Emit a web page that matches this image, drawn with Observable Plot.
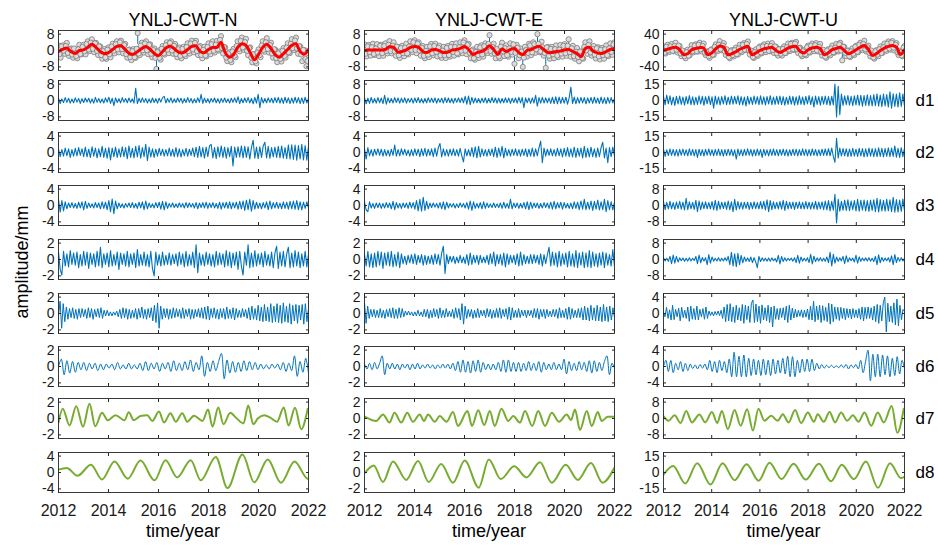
<!DOCTYPE html>
<html><head><meta charset="utf-8">
<script src="https://cdn.jsdelivr.net/npm/d3@7"></script>
<script src="https://cdn.jsdelivr.net/npm/@observablehq/plot@0.6"></script>
<style>
body{margin:0;background:#fff;font-family:"Liberation Sans",Arial,sans-serif;}
#c{position:relative;width:938px;height:545px;overflow:hidden;background:#fff;}
.lbl{position:absolute;white-space:nowrap;color:#000;line-height:1;transform:translate(-50%,-50%);}
</style></head><body><div id="c"></div>
<script>
// ---------------- DATA ----------------
const stations = ["YNLJ-CWT-N", "YNLJ-CWT-E", "YNLJ-CWT-U"];
const levels = ["d1","d2","d3","d4","d5","d6","d7","d8"];
const yearTicks = [2012, 2014, 2016, 2018, 2020, 2022];
// y tick value per panel (rows: raw, d1..d8), per station
const N_ticks = [8, 8, 4, 4, 2, 2, 2, 2, 4];
const E_ticks = [8, 8, 4, 4, 2, 2, 2, 2, 2];
const U_ticks = [40, 15, 15, 8, 8, 4, 4, 8, 15];

// raw observations: samples at start of month (_a) and mid month (_b); trend (bi-monthly)
const N_raw_a = [2.5,-3.5,2.5,-1.6,3.7,-2.6,1.0,-3.5,0.5,-3.8,2.8,-1.9,2.8,-1.9,4.5,-0.3,5.5,-0.8,3.7,-2.2,2.0,-4.0,0.7,-4.1,1.5,-3.3,3.3,-1.4,4.5,-0.9,4.8,-1.4,3.2,-3.5,0.5,-4.7,0.7,-3.6,8.5,-2.3,3.8,-1.0,4.5,-1.8,3.0,-3.3,1.0,-9.0,0.0,-4.5,2.2,-2.0,4.0,-1.3,4.5,-1.6,3.2,-3.3,1.5,-3.8,1.8,-2.8,3.5,-1.5,4.8,-0.9,4.7,-2.2,2.2,-3.8,1.8,-2.9,3.5,-1.8,4.5,-1.0,4.7,0.0,7.0,-1.5,1.5,-5.2,-0.8,-5.7,0.8,-3.3,4.5,-0.4,6.3,0.3,5.7,-2.3,1.5,-5.8,-1.7,-6.3,0.5,-3.3,4.5,-0.6,6.0,-1.0,3.8,-3.5,0.5,-5.7,-0.5,-5.4,1.2,-3.5,3.5,-1.3,5.5,0.2,6.3,-1.6,2.0,-5.2,0.2,-7.7,-3.5];
const N_raw_b = [-1.8,2.0,-0.1,2.2,-1.2,0.5,-2.0,1.0,-2.7,0.6,-1.7,1.7,-0.4,3.2,0.5,3.8,0.8,3.5,-0.2,2.0,-2.3,-0.3,-3.4,0.4,-1.8,1.9,-0.1,3.1,0.5,4.0,0.7,2.6,-1.8,0.2,-3.2,-0.3,-3.3,0.8,-1.5,2.4,0.1,3.4,0.1,2.7,-1.6,0.2,-3.6,-0.8,-3.6,0.8,-1.4,2.6,0.4,3.7,0.0,2.3,-1.7,0.6,-2.6,0.8,-2.0,1.7,-0.3,3.4,0.5,3.7,-0.3,1.6,-2.2,0.3,-2.4,1.7,-0.5,3.1,-0.1,2.9,0.6,5.2,1.2,1.7,-3.4,-1.5,-4.6,-0.5,-2.5,2.2,0.8,4.7,1.5,4.1,-0.2,1.1,-3.5,-1.8,-5.3,-1.0,-2.3,2.4,0.3,4.0,0.7,2.7,-1.4,0.6,-3.7,-1.4,-4.1,-0.2,-2.6,1.4,-0.8,3.2,1.1,4.9,1.0,2.1,-2.0,0.3,-4.2,-5.1];
const N_trend = [-0.5,0.5,1.2,-0.5,-1.5,0,0.3,1.5,3.0,1.5,-0.5,-1.5,-1.0,0.5,2.0,2.3,0.5,-1.5,-1.8,-0.5,1.0,2.0,0.5,-1.5,-2.5,-0.5,1.5,2.0,0.5,-1.0,-1.0,0.5,2.0,2.2,-0.5,-1.0,0.5,1.5,1.5,4.0,-1.0,-3.3,-2.0,1.5,3.3,2.5,-1.0,-4.5,-2.0,1.5,3.0,1.0,-2.0,-3.3,-1.5,0.5,2.5,3.3,-0.5,-1.8,0.5];
const N_stemT = [2015.17, 2015.92], N_stemFrom = [3.0, -3.0], N_stemTo = [8.5, -9.0];

const E_raw_a = [3.0,-2.9,2.7,-2.5,3.3,-2.2,3.1,-2.8,2.8,-2.6,3.5,-1.4,4.6,-1.4,4.0,-2.6,1.8,-3.6,2.3,-2.8,3.3,-1.9,4.5,-0.8,5.0,-1.3,4.0,-2.5,2.2,-3.8,1.8,-3.2,3.2,-2.3,3.3,-2.9,2.3,-3.6,1.8,-3.7,2.2,-3.0,3.2,-2.5,3.5,-1.9,4.0,-1.3,5.0,-1.8,3.2,-3.8,0.5,-4.5,1.8,-3.6,2.5,-3.0,3.5,-1.2,7.5,-1.6,3.3,-3.8,0.5,-3.8,3.8,-2.7,2.5,-3.0,3.5,-2.0,-6.5,2.8,-3.8,1.0,-8.0,1.8,-3.0,3.3,-2.3,4.0,-1.1,8.0,-0.8,4.3,-2.5,-8.5,1.8,-4.0,1.8,-3.8,2.5,-3.2,2.7,-3.0,3.1,-2.6,5.5,-3.0,2.3,-4.0,1.2,-5.3,-0.5,-4.0,4.0,-1.6,4.5,-2.5,2.2,-3.9,1.6,-4.4,1.3,-4.0,2.5,-2.8,3.5,-2.1,4.0];
const E_raw_b = [-1.6,2.0,-0.8,1.6,-1.7,1.0,-1.0,2.3,-1.3,2.2,-0.2,2.8,-0.3,2.3,-0.4,1.9,-2.3,1.2,-1.3,1.4,-1.4,1.9,0.3,4.0,0.3,3.4,0.0,1.3,-2.6,-0.2,-2.0,2.0,-1.3,2.2,-0.7,1.3,-2.4,-0.1,-2.3,1.3,-2.2,1.8,-0.7,1.7,-1.4,1.6,-0.1,3.9,0.0,2.7,-1.1,-0.1,-3.8,-0.6,-2.2,1.5,-1.9,2.1,-0.1,3.2,-0.2,1.7,-1.4,0.7,-2.9,1.9,-0.5,1.1,-2.3,1.0,-0.7,3.0,-1.1,1.3,-2.3,-0.5,-3.5,0.2,-1.2,2.5,-0.9,3.1,0.6,3.2,-0.4,1.6,-1.2,1.5,-2.6,0.8,-1.9,0.7,-2.5,0.4,-1.5,2.3,-1.3,2.3,-0.8,1.1,-2.8,-0.6,-3.2,-0.5,-3.6,1.8,0.1,2.7,-1.0,0.7,-2.0,1.1,-2.9,0.4,-2.3,0.6,-2.3,1.0,-0.7,3.0];
const E_trend = [0,0.2,0.3,0.3,0.2,0.5,1.8,1.5,-0.8,-0.5,0.3,1.5,2.0,1.5,-0.5,-1.0,0.2,0.5,-0.2,-1.0,-0.8,0.2,0.5,1.0,2.0,0.5,-2.0,-1.0,-0.5,0.5,2.3,0.5,-2.0,0.8,-0.5,0.5,1.0,-1.0,-2.0,0.0,0.5,1.5,2.0,0.5,-1.0,-1.0,-0.5,-0.3,0.3,0.5,-0.5,-1.5,-3.0,1.0,1.5,-0.5,-1.2,-1.5,-0.5,0.5,1.0];
const E_stemT = [2017.0, 2018.0, 2018.33, 2018.92, 2019.25, 2020.17], E_stemFrom = [3.0, -3.0, -3.5, 3.5, -3.5, 2.5], E_stemTo = [7.5, -6.5, -8.0, 8.0, -8.5, 5.5];

const U_raw_a = [10,-7.5,14,-3.5,16,-2,19,-5,11,-14,-2,-19,2,-12,13,-4.5,15,-3,19,-2.5,17,-11,-2,-18,3,-11,15,-1.5,23,0.5,18,-11,-2,-19,1,-14.5,7,-10,14,-4,18,0.5,22,-10,-2,-18,3,-13,10,-7,15,-4,17,-2,18,-6,9,-12.5,3,-12.5,10,-6,17,-1.5,19,1.5,21,-6,7,-14,2,-12,12,-5,17,-2,18,-2.5,16,-12.5,-2,-18,3,-12,12,-5.5,16,-2.5,19,-24,9,-14,0,-16,5,-11,12,-4,19,1,24,-2.5,12,-14.5,-4,-20,1,-14,10,-6,17,-1,22,2,23,0,18,-11,-2,-14,11];
const U_raw_b = [-5,9,0,10,-1,11,2,12,-7,0,-14,-4,-13,3,-2,12,-1,14,3,11,-5,-3,-14,1,-10,9,2,14,3,12,-2,3,-16,-2,-11,1,-9,5,-1,14,2,16,1,0,-16,-4,-10,7,-5,10,1,11,-1,11,1,10,-7,3,-8,4,-6,8,2,16,3,17,3,6,-10,-2,-9,8,-3,12,3,13,0,9,-4,2,-15,0,-8,5,-4,7,1,15,0,9,-6,-1,-14,-2,-8,9,-3,14,5,16,3,8,-6,0,-17,-2,-10,3,-6,8,2,17,5,19,7,14,-4,-3,-12,7];
const U_trend = [0,3,6,8,2,-10,-8,2,5,7,6,-10,-6,4,11,8,-10,-8,-3,3,7,10,-10,-6,0,4,6,8,0,-5,0,6,9,10,-2,-6,2,6,8,5,-10,-6,2,5,8,0,-8,-4,2,8,12,3,-12,-8,0,6,10,12,8,-10,2];
const U_stemT = [2019.42], U_stemFrom = [-8], U_stemTo = [-24];

// ---- N (north) details ----
const N_d1 = [1.2,-1.5,0.8,-1.0,1.4,-0.9,1.1,-1.3,0.7,-1.1,1.3,-0.8,1.0,-1.4,0.9,-1.0,1.2,-0.7,1.1,-1.2,0.8,-1.3,1.5,-0.9,1.0,-1.1,0.7,-1.2,1.3,-0.8,1.6,-1.4,1.1,-2.5,1.3,-1.0,0.9,-1.2,1.4,-0.8,1.0,-1.1,1.2,-0.9,0.8,-1.3,6.0,-1.5,1.1,-1.0,1.3,-0.9,1.0,-1.2,0.8,-1.1,1.2,-1.0,0.9,-1.3,1.1,-0.8,1.4,2.0,-1.2,1.0,-0.9,1.3,-1.1,0.8,-1.0,1.2,-0.8,1.1,-1.3,0.9,-1.0,1.4,-0.9,1.0,-1.2,0.8,-1.1,1.3,-0.9,3.0,-1.4,1.1,-1.0,0.9,-1.2,1.0,-0.8,1.2,-1.1,0.9,-1.3,1.0,-0.9,1.2,-1.0,0.8,-1.2,1.1,-0.9,1.3,-1.0,1.8,-1.5,1.0,-1.1,1.2,-0.9,1.4,-1.2,1.0,-1.6,1.5,-1.3,3.0,-3.5,1.4,-1.2,1.0,-1.1,1.3,-0.9,1.1,-1.2,1.4,-1.0,1.5,-1.3,1.2,-1.4,1.6,-1.1,1.3,-1.5,1.2,-1.3,1.6,-1.2,1.4,-1.5,1.3,-1.4,1.6,-1.2,1.0];
const N_d2 = [0.8,-1.0,0.7,-0.9,1.1,-0.8,0.9,-1.2,0.7,-0.9,1.0,-0.8,1.2,-0.7,0.9,-1.0,1.3,-1.1,0.8,-1.2,1.4,-0.9,1.1,-1.3,0.9,-1.0,1.5,-1.2,1.0,-1.4,1.2,-1.8,1.1,-1.0,1.3,-1.2,0.9,-1.1,1.4,-1.0,1.2,-1.5,1.6,-1.2,1.0,-1.3,1.5,-1.1,1.7,-1.4,1.2,-1.0,2.0,-2.0,1.3,-1.1,0.9,-1.2,0.8,-0.9,1.0,-0.7,0.8,-0.9,0.7,-0.8,1.1,-0.9,0.8,-1.0,1.2,-1.0,0.9,-1.1,0.7,-0.8,1.0,-0.9,0.8,-0.7,1.1,-1.0,1.3,-1.2,1.5,-1.1,1.2,-1.4,1.3,-1.0,1.6,2.0,-1.3,1.2,-1.5,1.4,-1.1,1.6,-1.2,1.3,-1.4,1.2,-1.0,1.5,-3.3,1.3,-1.2,1.4,-1.1,1.6,-1.3,1.5,-1.2,1.4,-1.6,1.2,3.0,-1.4,1.3,-1.5,1.4,-1.2,1.6,2.5,-1.3,1.5,-1.4,1.2,-1.1,1.3,-1.2,1.5,-1.3,1.6,-1.4,1.2,-1.5,1.8,-1.6,1.9,-1.7,1.8,-1.9,1.7,-1.6,2.0,-1.8,1.7,-1.9,1.5];
const N_d3 = [1.5,-1.6,1.2,-1.3,0.9,-0.8,0.6,-0.5,0.7,-0.6,0.5,-0.7,0.8,-0.6,0.9,-1.1,1.0,-0.7,0.6,-0.5,0.4,-0.6,0.7,-0.5,0.6,-0.8,0.9,-0.7,0.8,-1.0,1.2,-1.5,1.6,-2.0,1.1,-0.8,0.6,-0.5,0.4,-0.6,0.5,-0.4,0.6,-0.5,0.7,-0.6,0.5,-0.7,0.8,-0.6,0.9,-1.0,1.1,-0.8,0.6,-0.5,0.4,-0.6,0.7,-0.5,0.8,-0.9,1.0,-1.1,0.9,-0.7,0.5,-0.4,0.6,-0.5,0.4,-0.5,0.6,-0.4,0.5,-0.6,0.7,-0.5,0.6,-0.4,0.5,-0.6,0.7,-0.8,0.6,-0.5,0.7,-0.6,0.8,-0.7,0.6,-0.5,0.7,-0.6,0.5,-0.7,0.8,-0.9,0.7,-0.6,0.8,-0.7,0.9,-0.8,0.7,-0.6,0.8,-0.9,1.0,-0.8,1.1,-1.2,1.3,-1.0,1.5,-1.4,1.2,-0.9,0.8,-0.7,0.6,-0.8,0.7,-0.6,0.9,-1.0,1.1,-0.8,0.7,-0.6,0.8,-0.7,0.6,-0.8,0.9,-0.7,0.8,-0.9,1.0,-0.8,1.1,-0.9,1.2,-1.0,0.9,-1.1,0.8,-0.7,0.9,-0.6];
const N_d4 = [0.9,-1.2,-1.9,1.0,-0.8,0.7,-0.9,1.1,-0.6,0.8,-0.7,0.9,-1.0,0.6,-0.8,1.0,-0.7,0.9,-1.1,0.8,-0.6,0.7,-0.9,1.0,-0.8,1.5,-1.0,0.7,-0.6,0.8,-0.9,1.1,-0.8,0.6,-0.7,0.9,-1.2,0.8,-0.6,0.7,-0.8,1.0,-0.9,0.7,-0.6,0.8,-1.0,1.2,-0.8,0.6,-0.7,0.9,-0.8,0.6,-0.9,1.0,-1.1,-2.0,0.9,-0.7,0.6,-0.8,0.9,-0.7,0.5,-0.6,0.8,-0.7,0.6,-0.5,0.7,-0.8,0.9,-0.6,0.7,-0.9,1.0,-0.8,0.6,-0.7,0.9,-1.0,1.8,-1.6,0.8,-0.7,0.6,-0.8,0.9,-0.6,0.7,-0.8,0.6,-0.9,1.0,-0.7,0.8,-0.6,0.7,-0.9,1.1,-0.8,0.9,-1.0,0.8,-0.7,0.9,-1.2,1.0,-0.8,-1.9,0.9,-0.7,1.8,-1.0,0.8,-0.9,1.1,-0.8,0.7,-0.6,0.8,-0.9,1.0,-0.7,0.6,-0.8,0.9,-1.0,0.8,1.6,-1.1,0.9,-0.8,1.0,-0.9,0.7,1.5,-1.0,0.8,-0.9,1.1,-0.8,0.9,-1.0,0.7,-0.8,1.0,-0.9,0.6];
const N_d5 = [-0.3,1.5,-1.8,1.2,-1.0,0.8,-0.7,0.6,-0.5,0.7,-0.6,0.5,-0.7,0.6,-0.5,0.6,-0.4,0.5,-0.6,0.7,-0.5,0.6,-0.7,0.5,-0.4,0.6,-0.5,0.7,-0.6,0.4,-0.3,0.4,-0.3,0.2,-0.3,0.2,-0.2,0.3,-0.4,0.5,-0.6,0.7,-0.5,0.6,-0.7,0.5,-0.6,0.4,-0.5,0.6,-0.7,0.6,-0.5,0.8,-0.6,0.5,-0.7,0.6,-0.5,0.7,-0.9,1.0,-1.1,1.3,-1.8,0.9,-0.7,0.6,-0.5,0.6,-0.7,0.5,-0.6,0.7,-0.5,0.6,-0.4,0.5,-0.6,0.7,-0.6,0.5,-0.4,0.6,-0.7,0.5,-0.6,0.5,-0.4,0.6,-0.5,0.7,-0.6,0.8,-0.7,0.9,-0.8,0.6,-0.5,0.7,-0.6,0.5,-0.7,0.6,-0.5,0.6,-0.7,0.8,-0.6,0.5,-0.6,0.7,-0.8,0.6,-0.5,0.4,-0.5,0.6,-0.4,0.5,-0.6,0.7,-0.8,0.9,-0.7,0.6,-0.8,1.0,-0.9,0.8,-1.0,1.1,-0.9,0.8,-1.0,1.2,-1.1,0.9,-1.0,1.2,-1.1,1.0,-1.2,1.3,-1.0,0.9,-1.1,1.2,-1.3,1.0,-0.9,1.1,-1.2,1.0,-0.8,1.1,-1.3,1.2,-1.0,0.6];
const N_d6 = [0,0.9,-1.0,0.7,-0.8,0.6,-0.7,0.5,-0.4,0.5,-0.5,0.4,-0.3,0.4,-0.5,0.3,-0.4,0.3,-0.2,0.3,-0.4,0.5,-0.3,0.2,-0.3,0.4,-0.3,0.2,-0.3,0.4,-0.5,0.6,-0.5,0.4,-0.3,0.5,-0.6,0.4,-0.3,0.5,-0.6,0.7,-0.5,0.4,-0.5,0.6,-0.4,0.8,-0.6,0.5,-0.4,1.3,-1.2,0.5,-0.6,0.7,-0.5,0.6,1.6,-1.5,0.8,-0.8,0.6,-0.7,0.5,-0.6,0.7,-0.5,0.6,-0.4,0.5,-0.4,0.3,-0.3,0.2,-0.3,0.3,-0.2,0.3,-0.4,0.5,-0.6,0.4,-0.5,1.3,-1.2,0.6,-0.7,1.0,-0.8];
const N_d7_t = [2012.00,2012.17,2012.44,2012.71,2012.98,2013.24,2013.47,2013.74,2013.97,2014.28,2014.64,2014.81,2015.01,2015.28,2015.55,2015.75,2016.02,2016.22,2016.48,2016.69,2016.95,2017.15,2017.42,2017.76,2017.98,2018.16,2018.39,2018.60,2018.87,2019.10,2019.40,2019.59,2019.79,2019.97,2020.23,2020.47,2020.74,2021.01,2021.20,2021.46,2021.71,2021.97];
const N_d7_v = [-0.5,1.2,-0.85,1.5,-1.0,1.8,-0.95,0.7,-0.2,0.4,-0.2,0.75,-0.2,0.3,0.4,-0.3,0.85,-0.5,0.65,-0.4,0.65,-0.4,0.35,-0.3,1.1,-1.0,1.35,-0.7,0.7,0.1,-0.6,1.6,-0.7,0.0,0.4,0.1,-0.4,1.35,-0.85,1.3,-1.3,1.2];
const N_d8_t = [2012.0,2012.33,2012.76,2013.30,2013.74,2014.24,2014.77,2015.28,2015.84,2016.28,2016.75,2017.29,2017.69,2018.29,2018.76,2019.36,2019.83,2020.37,2020.90,2021.44,2021.95,2022.0];
const N_d8_v = [0.7,1.1,-0.8,1.9,-1.7,2.7,-1.5,2.9,-1.9,3.0,-1.2,3.0,-1.9,3.8,-3.8,4.4,-2.4,3.2,-2.5,2.7,-1.5,-1.6];

// ---- E (east) details ----
const E_d1 = [1.3,-1.6,1.1,-1.4,1.5,-1.2,1.0,-1.3,1.4,-1.1,1.2,-1.5,2.5,-1.8,1.3,-1.1,1.0,-1.2,1.4,-1.0,1.2,-1.3,1.1,-1.0,1.3,-1.2,1.0,-0.9,1.1,-1.3,1.2,-1.0,1.4,-1.1,0.9,-1.2,1.0,-1.1,1.3,-0.9,1.1,-1.0,1.2,-1.3,1.0,-0.9,1.1,-1.2,1.4,-1.0,1.2,-1.1,1.0,-1.3,1.1,-0.9,1.2,-1.0,1.3,-1.1,2.0,-1.8,2.2,-2.0,1.5,-1.3,1.2,-1.1,1.0,-1.2,1.1,-1.0,1.3,-1.2,1.0,-1.1,1.4,-1.0,1.2,-1.3,1.1,-1.2,1.0,-1.1,1.3,-1.0,1.2,-1.4,1.1,-1.0,1.2,-1.3,1.5,-1.2,1.4,-3.5,1.3,-1.1,1.2,-1.4,1.3,-1.2,2.5,-2.8,1.4,-1.3,1.5,-1.2,1.3,-1.1,1.2,-1.4,1.6,-1.5,1.8,-1.6,1.7,-1.4,1.5,-1.3,1.6,-1.8,1.4,6.5,-1.5,1.7,-1.6,1.4,-1.3,1.5,-1.2,1.4,-1.6,1.3,-1.2,1.5,-1.4,1.6,-1.3,1.2,-1.5,1.7,-1.4,1.3,-1.6,1.5,-1.3,1.4,-1.2,1.1];
const E_d2 = [0.9,-1.6,1.2,-0.8,0.7,-0.9,0.8,-0.6,0.9,-0.7,0.8,-0.9,0.7,-0.8,0.6,-0.9,0.8,-0.7,1.8,-0.9,0.7,-0.8,0.9,-0.6,0.8,-0.7,0.6,-0.9,0.7,-0.8,0.9,-0.7,0.8,-1.0,0.9,-0.8,1.0,-0.9,0.8,-0.7,0.9,-1.0,1.1,-0.9,1.2,2.2,-1.1,0.9,-0.8,0.7,-0.9,0.8,-0.7,0.9,-0.8,0.7,-0.9,1.0,-0.8,-2.3,0.9,-0.8,0.7,-0.9,1.2,-1.0,1.4,-1.3,1.5,-1.1,0.9,-0.8,0.7,-0.9,0.8,-0.7,0.9,-1.0,1.3,-1.2,1.1,-0.9,1.5,-1.3,1.0,-0.8,0.7,-0.9,0.8,-0.7,0.9,-0.8,0.7,-0.9,0.8,-0.7,0.9,-1.0,0.8,-0.9,1.1,-1.0,0.9,-0.8,1.2,2.8,-2.5,1.1,-0.9,0.8,-0.7,0.9,-0.8,0.7,-0.9,1.0,-0.8,0.9,-1.1,1.0,-0.9,1.2,-1.0,0.9,-1.1,1.3,-1.2,1.0,-0.9,1.1,-1.3,1.5,-1.2,1.0,-1.1,1.3,-1.0,0.9,-1.2,1.1,-1.0,1.2,2.5,-1.3,1.1,-2.5,1.2,-1.0,1.3,-0.9];
const E_d3 = [0.8,-1.1,-1.5,0.9,-0.6,0.5,-0.7,0.6,-0.5,0.6,-0.7,0.5,-0.6,0.7,-0.5,0.6,-0.8,1.0,-1.0,0.7,-0.6,0.5,-0.7,0.6,-0.5,0.6,-0.7,0.8,-0.6,0.7,-0.9,1.2,-1.3,1.5,-1.4,2.0,-1.2,1.0,-0.8,0.6,-0.5,0.6,-0.4,0.5,-0.6,0.7,-0.8,0.9,-1.0,0.8,-0.6,0.5,-0.4,0.5,-0.6,0.4,-0.5,0.6,-0.4,0.5,-0.6,0.7,-0.9,1.1,-1.2,0.9,-0.7,0.5,-0.6,0.7,-0.8,0.9,-0.7,0.6,-0.5,0.4,-0.5,0.6,-0.5,0.4,-0.5,0.6,-0.7,0.8,-0.6,0.5,-0.7,1.5,-0.8,0.6,-0.5,0.6,-0.7,0.5,-0.6,0.7,-0.8,0.9,-1.0,0.8,-0.7,0.6,-0.5,0.6,-0.7,0.5,-0.6,0.7,-0.5,0.6,-0.7,0.8,-0.9,1.0,-0.8,0.7,-0.6,0.8,-0.9,0.7,-0.6,0.5,-0.7,0.6,-0.8,0.9,-0.7,0.8,-1.0,1.1,-0.9,1.5,-1.0,0.8,-0.9,1.1,-1.2,1.0,-0.9,1.3,-1.1,0.9,-1.0,1.5,-1.5,1.2,-1.0,0.9,-1.1,0.8];
const E_d4 = [0.6,-0.8,1.0,-0.9,0.7,-1.0,0.8,-0.9,1.0,-0.7,0.9,-1.1,0.8,-0.7,0.9,-0.8,1.0,-0.9,0.6,-0.8,0.9,-1.0,0.7,-0.5,0.4,-0.6,0.5,-0.4,0.6,-0.5,0.7,-0.6,0.5,-0.4,0.6,-0.7,0.5,-0.6,0.4,-0.5,0.5,-0.6,0.7,-0.5,0.6,-0.7,0.8,1.6,-1.7,0.6,-0.5,0.4,-0.3,0.4,-0.5,0.3,-0.4,0.5,-0.4,0.3,-0.5,0.6,-0.7,0.8,-0.6,0.5,-0.4,0.5,-0.6,0.5,-0.4,0.3,-0.4,0.5,-0.6,0.7,-0.5,0.9,-0.8,0.6,-0.5,0.6,-0.7,0.8,-0.9,0.7,-0.6,0.5,-0.4,0.5,-0.6,0.7,-0.8,0.9,-0.7,0.6,-0.5,0.4,-0.5,0.6,-0.5,0.6,-0.4,0.5,-0.6,0.7,-0.8,0.6,-0.5,0.6,1.5,-0.8,0.9,-0.7,0.8,-0.9,1.0,-0.8,0.7,-0.6,0.8,-0.9,1.0,-0.8,0.7,-0.9,1.1,-1.0,0.8,-0.7,0.9,-1.0,0.8,-0.9,1.1,-1.0,0.9,-0.8,0.7,-0.9,0.8,-0.7,0.9,-1.0,0.8,-0.7,0.6,-0.8,1.2,-0.9];
const E_d5 = [1.3,-1.2,0.9,-0.6,0.5,-0.4,0.5,-0.5,0.4,-0.5,0.6,-0.5,0.4,-0.6,0.5,-0.4,0.6,-0.5,0.7,-0.6,0.5,-0.6,0.7,-0.5,0.6,-0.4,0.3,-0.2,0.3,-0.2,0.2,-0.3,0.2,-0.3,0.4,-0.3,0.2,-0.4,0.5,-0.4,0.5,-0.6,0.4,-0.5,0.6,-0.4,0.5,-0.6,0.7,-0.5,0.4,-0.5,0.6,-0.4,0.3,-0.4,0.5,-0.6,0.7,-0.5,0.6,-0.8,1.2,-1.3,0.9,-0.6,0.5,-0.4,0.5,-0.6,0.4,-0.5,0.6,-0.5,0.4,-0.3,0.4,-0.5,0.6,-0.4,0.5,-0.6,0.4,-0.5,0.6,-0.5,0.7,-0.6,0.5,-0.4,0.6,-0.7,0.8,-0.8,0.7,-0.5,0.4,-0.5,0.6,-0.5,0.4,-0.3,0.4,-0.5,0.4,-0.3,0.4,-0.5,0.6,-0.5,0.6,-0.7,0.5,-0.4,0.5,-0.6,0.5,-0.4,0.3,-0.4,0.5,-0.4,0.5,-0.6,0.7,-0.5,0.4,-0.5,0.6,-0.7,0.8,-0.7,0.6,-0.5,0.4,-0.5,0.6,-0.5,0.7,-0.8,0.9,-0.8,0.7,-0.9,1.0,-0.8,0.7,-0.9,1.0,-0.9,0.8,-1.0,1.1,-0.9,0.8,-1.0,0.9,-0.8,0.7,-0.5];
const E_d6 = [0.3,-0.3,0.4,-0.4,0.5,-0.3,0.4,1.3,-1.0,0.4,-0.3,0.4,-0.3,0.3,-0.4,0.3,-0.2,0.3,-0.4,0.3,-0.3,0.4,-0.3,0.2,-0.2,0.3,-0.2,0.2,-0.3,0.2,-0.2,0.3,-0.2,0.3,-0.3,0.4,-0.5,0.6,-0.7,0.8,-0.7,0.6,-0.8,0.7,-0.6,0.8,-0.7,0.5,-0.4,0.3,-0.4,0.3,-0.4,0.5,-0.6,0.8,-0.7,0.8,-0.6,0.5,-0.6,0.5,-0.6,0.4,-0.5,0.6,-0.5,0.4,-0.5,0.6,-0.7,0.5,-0.4,0.3,-0.4,0.5,-0.4,0.3,-0.4,0.9,-0.9,0.6,-0.5,0.4,-0.5,0.6,-0.4,0.5,-0.6,0.7,-0.8,0.7,-0.6,0.5,-0.5,0.6,1.3,-1.0,0.4,-0.2];
const E_d7_t = [2012.03,2012.47,2012.74,2013.00,2013.20,2013.47,2013.71,2013.94,2014.21,2014.38,2014.54,2014.81,2015.01,2015.28,2015.54,2015.74,2016.12,2016.30,2016.55,2016.79,2017.01,2017.21,2017.48,2017.75,2017.95,2018.22,2018.42,2018.71,2018.95,2019.22,2019.49,2019.78,2020.09,2020.26,2020.42,2020.62,2020.89,2021.09,2021.33,2021.49,2021.73,2022.00];
const E_d7_v = [0.2,-0.3,0.5,-0.5,0.7,-0.5,0.7,-0.4,0.5,-0.3,0.5,-0.4,0.3,-0.4,0.8,-0.9,0.9,-0.9,1.0,-0.8,0.9,-0.9,1.2,-0.3,0.3,-0.5,0.9,-0.9,0.9,-0.9,0.7,-0.4,0.5,-0.2,1.1,-1.4,0.9,-0.9,0.8,-0.3,0.2,0.2];
const E_d8_t = [2012.03,2012.37,2012.74,2013.14,2013.67,2014.14,2014.57,2015.07,2015.54,2016.01,2016.57,2016.97,2017.45,2017.99,2018.48,2019.02,2019.49,2020.05,2020.53,2021.06,2021.52,2022.00];
const E_d8_v = [0.0,0.85,-1.15,1.35,-0.9,1.4,-1.15,1.05,-1.25,1.45,-1.85,1.6,-0.8,0.75,-0.6,1.25,-1.25,0.95,-0.9,1.15,-1.25,0.6];

// ---- U (up) details ----
const U_d1 = [3.5,-4.0,5.0,-3.0,4.2,-3.8,3.0,-4.5,3.8,-3.2,4.0,-3.5,3.2,-4.2,3.6,-3.0,4.5,-3.8,3.3,-4.0,3.0,-3.6,4.2,-3.2,3.8,-4.4,3.5,-3.0,4.0,-3.7,3.3,-7.0,4.0,-3.5,3.2,-4.0,3.6,-3.2,4.4,-3.8,3.0,-3.6,4.0,-3.4,3.7,-3.0,4.2,-3.8,3.5,-4.1,3.2,-5.0,3.8,-3.4,3.0,-3.6,4.0,-3.2,3.5,-3.8,4.2,-3.5,3.3,-4.0,3.6,-3.1,4.4,-3.9,3.2,-3.5,3.8,-3.3,4.1,-3.7,3.5,-4.2,3.0,-3.6,4.0,-3.4,3.7,-4.3,3.4,-3.8,4.2,-3.5,3.1,-4.0,3.8,-3.2,4.5,-3.7,3.3,-6.0,4.0,-3.6,3.5,-4.2,3.9,-3.3,4.1,-3.8,3.6,-4.4,3.8,-4.0,15.0,-15.0,13.0,-13.0,6.0,-4.5,4.2,-3.8,4.6,-4.2,3.9,-4.8,4.3,-4.0,5.0,-4.4,4.7,-5.2,4.5,-4.6,5.3,-4.8,4.6,-5.0,5.5,-4.8,6.0,-5.2,4.9,-5.6,5.8,-5.0,5.4,-6.0,8.0,-7.0,6.2,-5.5,5.8,-6.0,7.0,-5.5,6.0,-5.0];
const U_d2 = [3.0,-3.5,2.5,-2.8,3.2,-2.6,2.8,-3.0,2.6,-3.3,2.9,-2.5,3.1,-2.7,2.5,-3.0,3.3,-2.6,2.8,-3.1,2.7,-4.5,3.0,-2.8,2.6,-3.2,2.9,-2.5,3.2,-2.7,2.5,-3.0,2.8,-2.6,3.1,-2.9,2.7,-3.3,2.6,-2.8,3.0,-2.6,2.8,-3.1,2.5,-6.0,3.2,-2.8,2.6,-3.0,2.9,-2.7,3.3,-2.5,2.8,-3.2,2.6,-2.9,3.1,-2.6,2.8,-4.5,3.0,-2.7,2.5,-3.1,2.9,-2.6,3.2,-2.8,2.6,-3.0,2.8,-2.5,3.1,-2.9,2.7,-3.2,2.5,-2.8,3.0,-2.7,2.9,-3.1,2.6,-2.8,3.3,-2.6,2.9,-3.0,2.7,-2.9,3.2,-2.6,2.8,-3.1,2.5,-2.9,3.0,-2.7,3.2,-2.8,3.5,-3.0,4.0,-3.6,-9.0,13.0,-5.0,4.0,-3.2,3.6,-3.0,3.4,-3.8,3.2,-3.5,3.9,-3.3,3.0,-3.6,3.8,-3.2,3.5,-4.0,3.3,-3.7,4.1,-3.4,3.6,-3.9,3.5,-3.8,4.2,-3.6,3.9,-4.0,3.7,-3.5,4.2,-3.8,4.0,-3.6,6.0,-4.2,3.8,-4.5,4.4,-3.9,4.0];
const U_d3 = [1.8,-2.0,1.5,-1.7,2.0,-1.6,1.4,-1.9,1.7,-1.5,2.0,-1.8,1.6,-2.2,3.5,-2.0,1.8,-1.6,1.5,-1.9,2.5,-3.0,2.2,-2.0,1.7,-1.5,1.8,-1.6,1.4,-1.7,1.9,-2.1,2.5,-2.4,2.0,-1.8,1.6,-1.5,1.7,-1.9,2.2,-2.0,1.8,-3.0,3.0,-2.2,1.9,-1.7,1.5,-1.8,1.6,-1.4,1.7,-1.9,1.5,-1.6,1.8,-1.5,1.4,-1.7,1.9,-1.6,2.0,-2.2,2.8,-3.0,2.4,-2.0,1.8,-1.6,1.5,-1.7,1.9,-1.8,2.5,-2.4,2.0,-1.7,1.6,-1.5,1.7,-1.9,1.6,-1.4,1.8,-1.6,1.5,-1.7,1.9,-1.5,1.6,-1.8,1.5,-1.7,2.0,-1.9,1.7,-1.6,1.8,-2.0,2.2,-2.1,2.4,-2.6,2.0,-2.3,5.5,-8.5,3.0,-2.8,2.0,-2.3,2.6,-2.4,2.8,-2.5,2.2,-2.0,2.4,-2.7,3.0,-2.8,2.5,-2.3,2.7,-2.6,2.4,-2.9,2.6,-2.4,2.8,-3.0,3.5,-3.2,2.9,-2.7,2.5,-2.8,3.0,-2.6,2.8,-3.0,4.0,-3.3,2.9,-3.1,2.7,-2.9,3.2,-2.5];
const U_d4 = [0.8,-0.7,0.6,-0.9,1.5,-2.0,2.2,-1.8,1.5,-1.2,0.8,-0.6,0.7,-0.9,0.6,-0.8,0.9,-0.7,0.6,-0.5,1.5,-2.0,2.2,-1.6,1.0,-0.8,0.9,-2.5,2.4,-1.8,1.2,-0.8,0.6,-0.7,0.9,-0.8,0.6,-0.7,0.8,-0.6,1.5,-2.5,3.5,-3.2,2.8,-3.5,3.0,-2.5,2.0,-1.6,1.2,-0.9,0.8,-1.0,1.2,-1.5,0.9,-1.2,-4.0,1.5,-1.0,0.8,-0.7,0.6,-0.8,0.7,-0.9,0.8,-0.6,0.5,-1.2,2.0,-2.2,1.5,-1.0,0.8,-0.7,0.6,-0.5,0.7,-0.8,0.9,-1.5,2.0,-1.8,1.2,-0.8,0.6,-0.7,0.9,-1.5,2.5,-2.2,1.6,-1.0,0.8,-0.7,0.9,-0.8,0.6,-0.9,1.2,-1.5,3.5,-3.2,2.5,-1.8,1.2,-0.9,0.8,-0.7,1.5,-2.0,1.8,-1.2,0.8,-0.6,0.7,-1.2,2.0,-1.8,1.3,-0.9,0.7,-0.6,0.8,-0.7,0.9,-0.8,0.6,-1.0,1.5,-2.5,2.3,-1.6,1.0,-0.8,0.7,-0.6,0.9,-1.2,1.8,-2.5,2.4,-1.5,1.0,-0.8,0.9,-0.7,0.6];
const U_d5 = [0.3,-0.8,1.5,-1.2,0.9,-1.6,2.0,-1.5,1.0,-0.8,1.3,-1.8,1.5,-1.0,0.8,-1.2,1.6,-1.9,1.8,-1.4,1.2,-1.5,1.8,-1.6,1.0,-0.8,1.2,-1.4,1.6,-1.2,0.6,-0.5,0.4,-0.6,0.5,-0.4,0.6,-0.5,0.8,-1.2,1.6,-2.0,2.2,-1.8,2.4,-2.0,1.6,-2.2,2.0,-1.6,1.4,-1.8,2.2,-2.4,2.0,-1.5,1.8,-2.2,2.5,3.3,-2.2,2.3,-2.0,1.8,-2.4,2.1,-1.6,1.4,-1.8,2.0,-2.2,1.6,-3.3,1.8,-1.4,1.2,-1.5,1.3,-1.0,1.4,-1.6,1.8,-2.2,2.0,-1.6,1.3,-1.1,1.0,-0.9,0.8,-0.7,0.9,-1.0,0.8,-0.9,1.1,-1.5,1.8,-1.6,3.0,-2.0,1.8,-1.5,2.0,-2.2,1.9,-1.7,1.5,-2.0,2.5,-2.6,2.3,-2.0,1.6,-1.4,1.5,-1.7,1.5,-1.2,1.3,-1.5,1.2,-1.0,1.1,-1.3,1.2,-1.0,0.9,-1.1,1.2,-1.4,1.6,-1.8,1.5,-1.3,1.6,-1.2,1.4,-1.6,1.8,-2.0,2.2,-2.4,2.0,-1.8,2.6,4.0,-4.5,2.5,-2.0,1.8,-2.2,2.6,-2.8,3.5,-3.0,2.0,-1.5,1.0,0.5];
const U_d6 = [0,1.5,-1.2,1.5,-1.5,0.8,-0.8,1.2,-1.2,0.8,-1.0,0.6,-0.5,0.4,-0.6,0.5,-0.4,0.6,-0.8,1.5,-1.2,1.2,-1.5,1.5,-1.0,1.2,-1.5,1.8,-2.5,3.5,-2.5,2.5,-2.5,2.8,-2.5,2.0,-2.2,1.8,-2.0,1.5,-2.2,1.8,-2.0,1.5,-2.2,1.8,-1.8,1.5,-1.6,2.0,-1.8,2.5,-2.5,2.4,-2.5,1.5,-1.5,1.8,-1.2,1.8,-1.2,1.8,-1.0,0.8,-0.6,0.5,-0.4,0.3,-0.3,0.3,-0.3,0.2,-0.3,0.4,-0.3,0.5,-0.6,0.4,-0.3,0.5,-0.6,1.5,-1.5,1.2,4.0,-3.5,3.0,-2.5,3.0,-2.5,2.8,-2.0,2.6,-2.5,2.0,-2.2,2.4,-1.8,1.5,-0.5];
const U_d7_t = [2012.01,2012.21,2012.46,2012.71,2012.94,2013.18,2013.49,2013.73,2014.01,2014.23,2014.42,2014.67,2014.95,2015.20,2015.47,2015.71,2015.94,2016.19,2016.47,2016.74,2016.95,2017.19,2017.46,2017.71,2017.99,2018.24,2018.40,2018.65,2018.89,2019.12,2019.37,2019.62,2019.86,2020.09,2020.34,2020.62,2020.89,2021.14,2021.47,2021.70,2021.97];
const U_d7_v = [1.0,-1.1,1.6,-2.2,3.7,-1.9,2.0,-1.9,3.2,-2.2,3.7,-5.1,4.2,-3.5,4.5,-5.9,4.8,-1.1,1.3,-1.1,2.1,-1.9,4.2,-2.2,2.9,-1.6,2.1,-1.6,3.2,-1.9,2.9,-1.1,1.6,-1.6,2.9,-3.5,2.9,-1.9,6.1,-7.0,4.8];
const U_d8_t = [2012.0,2012.4,2012.9,2013.4,2013.95,2014.45,2014.95,2015.45,2015.95,2016.4,2016.9,2017.4,2017.9,2018.45,2018.95,2019.4,2019.9,2020.4,2020.9,2021.4,2021.85,2022.0];
const U_d8_v = [-2,6,-10,8.5,-11,8.5,-7,7.5,-7.5,9,-6,8,-6.5,8,-8,7,-6,10,-14,8.5,-5,-4];

// ---------------- DRAWING ----------------
const BLUE = "#0072BD", GREEN = "#77AC30", RED = "#FF0000";
const FONT = "'Liberation Sans', Arial, Helvetica, sans-serif";
const cols = [{x: 58, w: 250}, {x: 364, w: 250}, {x: 663, w: 241}];
const rowTops = [30, 80, 132, 185, 239, 293, 346, 398, 452];
const rowH = 40;
const box = document.getElementById("c");

const tOf = arr => arr.map((_, i) => 2012 + 10 * i / (arr.length - 1));
const tMid = arr => arr.map((_, i) => 2012 + (i + 0.5) / 12);

function rawMarks(rawA, rawB, trend, stT, stF, stTo) {
  const ta = tOf(rawA), tb = tMid(rawB), tt = tOf(trend);
  const stems = stT.map((t, i) => ({t, a: stF[i], b: stTo[i]}));
  const dotOpts = {r: 2.6, stroke: "#7a7a7a", fill: "#dcdcdc", strokeWidth: 0.8, clip: true};
  return [
    Plot.ruleX(stems, {x: "t", y1: "a", y2: "b", stroke: BLUE, strokeWidth: 1, clip: true}),
    Plot.dot(rawA, {x: (d, i) => ta[i], y: d => d, ...dotOpts}),
    Plot.dot(rawB, {x: (d, i) => tb[i], y: d => d, ...dotOpts}),
    Plot.line(trend, {x: (d, i) => tt[i], y: d => d, stroke: RED, strokeWidth: 3, curve: "catmull-rom", clip: true})
  ];
}
function noiseMarks(vals, curve = "linear", sw = 1.1) {
  const t = tOf(vals);
  return [Plot.line(vals, {x: (d, i) => t[i], y: d => d, stroke: BLUE, strokeWidth: sw, curve, clip: true})];
}
function smoothMarks(ts, vs) {
  return [Plot.line(vs, {x: (d, i) => ts[i], y: d => d, stroke: GREEN, strokeWidth: 2, curve: "monotone-x", clip: true})];
}

function panel(ci, ri, tick, lim, marks) {
  const c = cols[ci], top = rowTops[ri];
  const last = ri === 8;
  const ml = 46, mr = 6, mt = 10, mb = last ? 34 : 10;
  const fmt = d => String(d);
  const axes = [
    Plot.frame({stroke: "#262626", strokeWidth: 0.9}),
    Plot.axisY([-tick, 0, tick], {anchor: "left", tickSize: -3, tickPadding: 7, tickFormat: fmt, label: null, fontSize: 14, fill: "#1a1a1a", stroke: "#262626"}),
    Plot.axisY([-tick, 0, tick], {anchor: "right", tickSize: -3, label: null, fill: "none", stroke: "#262626"}),
    Plot.axisX(yearTicks, {anchor: "top", tickSize: -3, label: null, fill: "none", stroke: "#262626"})
  ];
  if (last) axes.push(Plot.axisX(yearTicks, {anchor: "bottom", tickSize: -3, tickPadding: 15, tickFormat: fmt, label: null, fontSize: 16, fill: "#1a1a1a", stroke: "#262626"}));
  else axes.push(Plot.axisX(yearTicks, {anchor: "bottom", tickSize: -3, label: null, fill: "none", stroke: "#262626"}));
  const svg = Plot.plot({
    width: c.w + ml + mr, height: rowH + mt + mb,
    marginLeft: ml, marginRight: mr, marginTop: mt, marginBottom: mb,
    style: {background: "transparent", overflow: "visible", fontFamily: FONT, fontSize: "14px", color: "#262626"},
    x: {domain: [2012, 2022]},
    y: {domain: [-lim, lim]},
    marks: [...marks, ...axes]
  });
  svg.style.position = "absolute";
  svg.style.left = (c.x - ml) + "px";
  svg.style.top = (top - mt) + "px";
  box.appendChild(svg);
}

const R = 1.22;
const cfg = [
  {ticks: N_ticks, raw: rawMarks(N_raw_a, N_raw_b, N_trend, N_stemT, N_stemFrom, N_stemTo),
   d: [noiseMarks(N_d1), noiseMarks(N_d2), noiseMarks(N_d3), noiseMarks(N_d4), noiseMarks(N_d5, "linear", 1), noiseMarks(N_d6, "catmull-rom", 1), smoothMarks(N_d7_t, N_d7_v), smoothMarks(N_d8_t, N_d8_v)]},
  {ticks: E_ticks, raw: rawMarks(E_raw_a, E_raw_b, E_trend, E_stemT, E_stemFrom, E_stemTo),
   d: [noiseMarks(E_d1), noiseMarks(E_d2), noiseMarks(E_d3), noiseMarks(E_d4), noiseMarks(E_d5, "linear", 1), noiseMarks(E_d6, "catmull-rom", 1), smoothMarks(E_d7_t, E_d7_v), smoothMarks(E_d8_t, E_d8_v)]},
  {ticks: U_ticks, raw: rawMarks(U_raw_a, U_raw_b, U_trend, U_stemT, U_stemFrom, U_stemTo),
   d: [noiseMarks(U_d1), noiseMarks(U_d2), noiseMarks(U_d3), noiseMarks(U_d4), noiseMarks(U_d5, "linear", 1), noiseMarks(U_d6, "catmull-rom", 1), smoothMarks(U_d7_t, U_d7_v), smoothMarks(U_d8_t, U_d8_v)]}
];
cfg.forEach((c, ci) => {
  panel(ci, 0, c.ticks[0], c.ticks[0] * R, c.raw);
  c.d.forEach((m, k) => panel(ci, k + 1, c.ticks[k + 1], c.ticks[k + 1] * R, m));
});

function lbl(text, x, y, size, rot) {
  const d = document.createElement("div");
  d.className = "lbl";
  d.textContent = text;
  d.style.left = x + "px"; d.style.top = y + "px";
  d.style.fontSize = size + "px";
  d.style.fontFamily = FONT;
  if (rot) d.style.transform = "translate(-50%,-50%) rotate(" + rot + "deg)";
  box.appendChild(d);
}
stations.forEach((s, i) => lbl(s, cols[i].x + cols[i].w / 2, 20, 18));
cols.forEach(c => lbl("time/year", c.x + c.w / 2, 531, 18));
levels.forEach((l, k) => lbl(l, 925, rowTops[k + 1] + rowH / 2, 17));
lbl("amplitude/mm", 22, 262, 18, -90);
</script></body></html>
